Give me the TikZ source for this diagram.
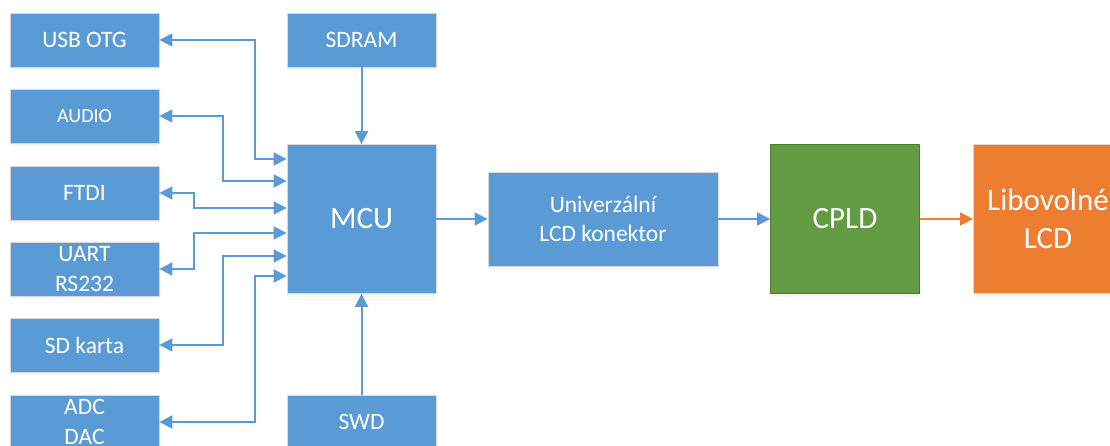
\documentclass[tikz,border=0pt]{standalone}
\usepackage{fontspec}
\setmainfont{Carlito}
\usetikzlibrary{arrows.meta,shadows}

\definecolor{modra}{HTML}{5B9BD5}
\definecolor{zelena}{HTML}{629B41}
\definecolor{oranzova}{HTML}{ED7D31}

\begin{document}
\begin{tikzpicture}[x=1pt, y=-1pt,
    blok/.style={draw=black!15, line width=0.8pt, fill=modra, text=white,
        minimum width=149pt, minimum height=54pt, inner sep=0pt, align=center,
        font=\fontsize{23.5}{29.5}\selectfont,
        drop shadow={opacity=0.08, shadow xshift=0pt, shadow yshift=-3pt}},
    velky/.style={blok, minimum height=149pt, font=\fontsize{31}{38}\selectfont},
    spoj/.style={draw=modra, line width=2pt, -{Triangle[length=13pt,width=13pt]}},
    obousm/.style={spoj, {Triangle[length=13pt,width=13pt]}-{Triangle[length=13pt,width=13pt]}}]

    \useasboundingbox (0,0) rectangle (1110,446);

    % periferie vlevo
    \node[blok] (usb) at (84.5,40) {USB OTG};
    \node[blok, font=\fontsize{20}{24}\selectfont] (audio) at (84.5,116) {AUDIO};
    \node[blok] (ftdi) at (84.5,193) {FTDI};
    \node[blok] (uart) at (84.5,269) {UART\\RS232};
    \node[blok] (sd) at (84.5,345) {SD karta};
    \node[blok] (adc) at (84.5,422) {ADC\\DAC};

    % procesor a cesta k displeji
    \node[blok] (sdram) at (361.5,40) {SDRAM};
    \node[velky] (mcu) at (361.5,219) {MCU};
    \node[blok] (swd) at (361.5,422) {SWD};
    \node[blok, minimum width=230pt, minimum height=94pt] (lcdkon) at (603,219) {Univerzální\\LCD konektor};
    \node[velky, fill=zelena, draw=zelena!80!black] (cpld) at (845,219) {CPLD};
    \node[velky, fill=oranzova] (lcd) at (1048,219) {Libovolné\\LCD};

    \draw[spoj] (sdram) -- (mcu);
    \draw[spoj] (swd) -- (mcu);
    \draw[spoj] (mcu) -- (lcdkon);
    \draw[spoj] (lcdkon) -- (cpld);
    \draw[spoj, draw=oranzova, line width=1.5pt] (cpld) -- (lcd);

    \foreach \n/\x/\y in {usb/255/159, audio/223/181, ftdi/194/208, uart/194/233, sd/223/256, adc/255/276}
    \draw[obousm] (\n.east) -| (\x,\y) -- (mcu.west |- 0,\y);
\end{tikzpicture}
\end{document}
